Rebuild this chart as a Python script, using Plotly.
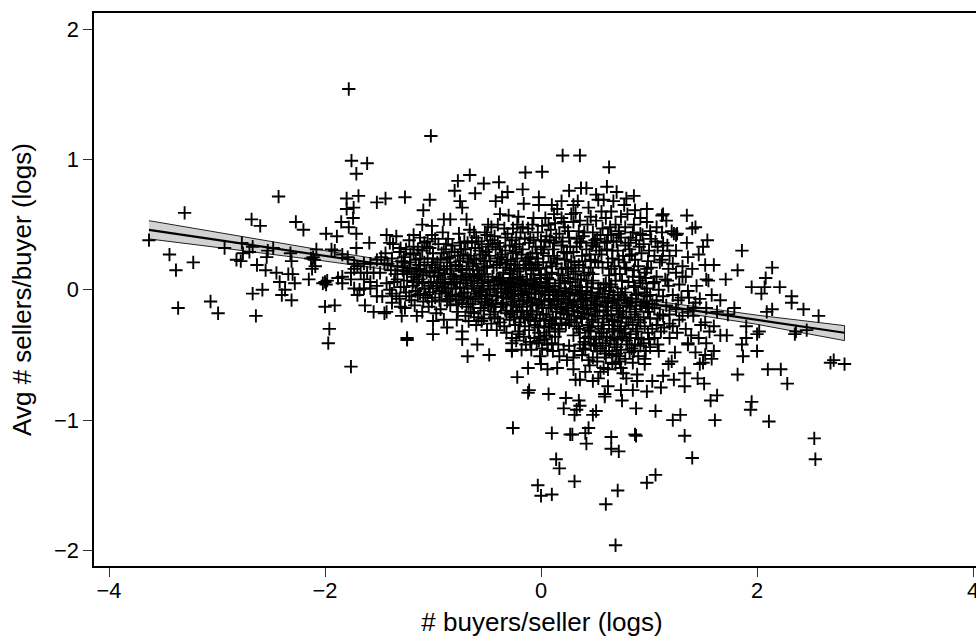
import plotly.graph_objects as go

left_tail = [(-1.78,1.54),(-1.755,.99),(-1.61,.97),(-1.71,.89),(-2.43,.715),(-3.30,.59),(-1.69,.72),(-1.80,.70),(-1.52,.67),(-1.44,.70),
(-1.80,.62),(-1.735,.63),(-1.74,.55),(-1.85,.52),(-1.78,.48),(-1.71,.43),(-2.68,.54),(-2.60,.49),(-2.27,.52),(-2.20,.46),(-1.99,.43),(-1.89,.41),
(-1.43,.42),(-1.59,.36),(-3.63,.38),(-3.44,.27),(-3.22,.21),(-3.38,.15),(-3.36,-.14),(-3.06,-.09),(-2.99,-.18),(-2.93,.32),(-2.82,.23),(-2.78,.22),
(-2.77,.36),(-2.67,.33),(-2.70,.29),(-2.76,.28),(-2.53,.30),(-2.48,.32),(-2.54,.25),(-2.63,.19),(-2.55,.15),(-2.45,.13),(-2.42,.06),(-2.34,.12),
(-2.30,.12),(-2.28,.05),(-2.31,.22),(-2.32,.28),(-2.15,.08),(-2.67,-.03),(-2.58,0),(-2.37,0),(-2.40,-.04),(-2.31,-.08),(-2.64,-.20),(-2.0,-.13),
(-1.91,-.12),(-1.96,-.30),(-1.97,-.41),(-2.08,.31),(-2.11,.25),(-2.13,.24),(-2.10,.23),(-2.12,.16),(-2.09,.18),(-1.94,.31),(-1.91,.30),(-1.84,.27),
(-1.79,.25),(-1.71,.32),(-2.0,.06),(-1.98,.07),(-2.02,.05),(-1.99,.04),(-1.88,.09),(-1.84,.10),(-1.76,.13),(-1.84,.05),(-1.76,.08),(-1.73,.20),
(-1.7,.18),(-1.64,.20),(-1.58,.20),(-1.52,.23),(-1.48,.25),(-1.45,.20),(-1.67,.13),(-1.61,.13),(-1.55,.13),(-1.49,.13),(-1.73,.16),(-1.64,.08),
(-1.58,.06),(-1.52,.03),(-1.73,.01),(-1.68,0),(-1.64,.01),(-1.58,.01),(-1.7,-.04),(-1.52,-.05),(-1.47,-.05),(-1.63,-.12),(-1.55,-.17),(-1.45,-.18),
(-1.43,.05),(-1.76,-.59)]

upper_fringe = [(-1.02,1.18),(.20,1.03),(.36,1.03),(.63,.94),(-.145,.90),(.01,.905),(-.77,.835),(-.66,.88),(-.53,.815),(-.39,.825),(-.80,.76),
(-.61,.74),(-.17,.77),(-.31,.75),(-.36,.71),(-.42,.68),(-1.26,.71),(-1.03,.69),(-.75,.68),(-.73,.63),(-1.09,.61),(-.16,.66),(-.02,.71),(-.02,.65),
(.26,.76),(.37,.78),(.42,.78),(.61,.79),(.70,.75),(.51,.73),(.79,.70),(.86,.72),(.19,.68),(.34,.68),(.53,.69),(.67,.68),(.58,.69),(.10,.65),(.77,.65),
(.65,.60),(.87,.61),(.98,.62),(1.12,.57),(1.16,.53),(.98,.52),(1.07,.48),(.86,.50),(.78,.48),(.72,.45),(.92,.43),(1.23,.43),(1.26,.43),(-.90,.54),
(-.84,.54),(-.69,.54),(-1.10,.50),(-1.01,.49),(-.49,.50),(-.38,.58),(-.30,.57),(-.21,.56),(-.07,.55),(.04,.55),(.19,.55),(.32,.59),(.46,.56),(.60,.55)]

lower_left = [(-1.24,-.37),(-1.24,-.385),(-.68,-.51),(-.48,-.50),(-.59,-.42),(-.73,-.38),(-.73,-.32),(-1.0,-.34),(-.87,-.29),(-.78,-.23),(-1.0,-.24),
(-1.43,-.17),(-1.29,-.20),(-1.15,-.20),(-.97,-.18),(-.50,-.31),(-.41,-.31),(-.27,-.46),(-.23,-.39),(-.27,-.41),(-1.38,-.10),(-1.30,-.13)]

lower_tail = [(.69,-1.96),(.60,-1.645),(.71,-1.54),(.98,-1.48),(1.06,-1.42),(-.03,-1.50),(0,-1.58),(.10,-1.57),(.31,-1.47),(.17,-1.37),(.14,-1.30),
(-.26,-1.06),(.10,-1.10),(.27,-1.11),(.29,-1.11),(.41,-1.10),(.44,-1.06),(.42,-1.18),(.65,-1.13),(.65,-1.22),(.72,-1.24),(.87,-1.11),(.88,-1.12),
(1.33,-1.12),(1.40,-1.29),(1.61,-1.00),(1.29,-.96),(1.22,-1.00),(1.06,-.93),(.88,-.91),(.75,-.85),(.48,-.96),(.51,-.93),(.31,-.96),(.33,-.92),(.36,-.89),
(.21,-.91),(.35,-.85),(.23,-.83),(.07,-.80),(-.12,-.79),(-.11,-.77),(-.22,-.67),(.59,-.80),(.59,-.82),(.62,-.74),(.74,-.77),(.85,-.77),
(.98,-.78),(1.11,-.75),(1.13,-.66),(1.03,-.70),(.89,-.70),(.89,-.65),(1.23,-.69),(1.33,-.74),(1.33,-.64),(1.45,-.68),(1.51,-.72),(1.57,-.85),(1.63,-.81),
(1.82,-.65),(1.95,-.86),(1.94,-.92),(2.11,-1.01),(2.28,-.72),(2.10,-.61),(2.22,-.61),(2.53,-1.14),(2.54,-1.30),(2.68,-.56),(2.71,-.54),(2.81,-.57),
(1.87,-.51),(2.00,-.47),(1.86,-.42),(1.50,-.56),(-.12,-.60),(0,-.57),(.06,-.61),(.15,-.60),(.30,-.61),(.41,-.63),(.32,-.69),(.36,-.69),(.48,-.70),(.53,-.68),
(.55,-.63),(.62,-.61),(.69,-.57),(.73,-.55),(.76,-.64),(.79,-.68),(.96,-.57),(.85,-.56),(1.18,-.57),(1.21,-.55),(1.47,-.57),(1.58,-.53),(1.43,-.48),(1.24,-.48),
(1.36,-.42),(1.09,-.47),(1.01,-.44),(.44,-.54),(.24,-.54),(-.01,-.51),(-.18,-.46),(-.27,-.47)]

right_side = [(1.35,.57),(1.43,.48),(1.40,.47),(1.54,.38),(1.50,.33),(1.35,.36),(1.46,.27),(1.86,.30),(1.82,.15),(1.60,.19),(1.52,.19),(1.71,.08),(1.53,.08),
(1.55,.07),(2.14,.17),(2.08,.09),(2.21,.02),(1.95,.02),(2.07,.02),(2.04,-.03),(2.32,-.05),(2.32,-.10),(2.43,-.15),(2.57,-.20),(2.14,-.15),(2.09,-.17),
(2.36,-.32),(2.35,-.34),(2.46,-.31),(1.90,-.28),(2.02,-.32),(2.00,-.34),(1.90,-.37),(1.79,-.14),(1.73,-.19),(1.66,-.08),
(1.58,-.04),(1.47,-.07),(1.36,-.01),(1.37,-.06),(1.72,-.35),(1.66,-.35),(1.60,-.28),(1.46,-.37),(1.53,-.41),(1.36,-.41),(1.19,-.37),(1.60,-.47),
(1.52,-.50),(1.13,.58),
(1.21,.45),(1.25,.42),(1.13,.36),(1.13,.30),(1.25,.30),(1.19,.26),(1.31,.18),(1.31,.10),(1.34,.10),(1.18,.16),(1.15,.08),(1.18,.03),(1.13,-.05),
(1.27,-.08),(1.41,-.14),(1.53,-.14),(1.63,-.17),(1.19,-.19),(1.28,-.23),(1.41,-.20),(1.52,-.25),(1.13,-.20),(1.19,-.26),(1.56,-.32)]

dense_upper = [(-1.40,.36),(-1.34,.41),(-1.37,.35),(-1.30,.32),(-1.22,.38),(-1.18,.33),(-1.12,.40),(-1.05,.37),(-1.01,.42),(-.95,.35),(-.91,.44),
(-.86,.39),(-.82,.34),(-.76,.43),(-.71,.37),(-.66,.46),(-.60,.40),(-.55,.35),(-.52,.44),(-.46,.48),(-.43,.41),(-.40,.36),(-.34,.47),(-.31,.43),(-.27,.38),
(-.22,.50),(-.19,.44),(-.15,.39),(-.12,.47),(-.03,.44),(.01,.49),(.05,.41),(.09,.46),(.13,.51),(.17,.43),(.22,.48),(.26,.40),(.30,.52),(.35,.45),(.39,.41),
(.43,.50),(.48,.44),(.52,.39),(.57,.47),(.62,.42),(.67,.37),(.69,.50),(.74,.40),(.81,.36),(.88,.38),(.95,.35),(1.02,.39),(1.08,.33),
(-1.44,.28),(-1.38,.24),(-1.31,.29),(-1.26,.21),(-1.21,.27),(-1.16,.23),(-1.10,.30),(-1.05,.24),(-1.00,.28),(-.96,.21),(-.90,.31),(-.85,.25),(-.80,.29),
(-.75,.22),(-.70,.31),(-.65,.26),(-.61,.32),(-.56,.24),(-.51,.29),(-.47,.22),(-.42,.31),(-.37,.25),(-.33,.30),(-.28,.22),(-.24,.33),(-.18,.27),(-.14,.22),
(-.08,.28),(-.03,.24),(.03,.33),(.07,.26),(.11,.31),(.15,.24),(.19,.34),(.24,.28),(.28,.22),(.33,.33),(.38,.26),(.42,.31),(.46,.23),(.51,.33),(.56,.27),
(.61,.31),(.66,.24),(.71,.30),(.76,.26),(.82,.31),(.87,.23),(.93,.28),(.99,.22),(1.05,.26),(1.10,.21),
(-1.39,.15),(-1.33,.18),(-1.27,.12),(-1.22,.17),(-1.17,.10),(-1.12,.16),(-1.06,.13),(-1.01,.19),(-.95,.11),(-.90,.16),(-.84,.12),(-.79,.19),(-.74,.10),
(-.69,.16),(-.63,.18),(-.58,.10),(-.53,.17),(-.38,.09),(-.33,.17),(-.28,.12),(-.24,.19),(-.19,.10),(-.14,.16),(-.09,.12),(-.05,.19),(0,.11),(.05,.17),(.10,.13),
(.14,.20),(.20,.11),(.25,.16),(.30,.12),(.35,.19),(.40,.11),(.46,.17),(.63,.11),(.68,.18),(.73,.12),(.79,.16),(.85,.10),(.90,.18),(.96,.13),(1.02,.17),(1.07,.10),
(-1.36,.06),(-1.30,.02),(-1.24,.07),(-1.19,.03),(-1.13,.08),(-1.08,.01),(-1.02,.06),(-.97,.03),(-.91,.08),(-.86,.01),(-.81,.06),(-.75,.02),(-.70,.08),(-.64,.03),
(-.59,.07),(-.54,.01),(-.49,.06),(-.44,.03),(-.39,.08),(-.34,.01),(-.29,.06),(-.25,.02),(-.20,.08),(-.15,.03),(-.10,.07),(-.06,.01),(-.01,.06),(.04,.02),(.08,.08),
(.13,.03),(.18,.07),(.22,.01),(.27,.06),(.32,.03),(.37,.08),(.43,.02),(.48,.07),(.53,.01),(.58,.04),(.64,.02),(.69,.07),(.75,.01),(.81,.06),(.87,.02),(.92,.07),
(.98,.01),(1.04,.05),(1.09,0)]

dense_lower = [(-1.38,-.03),(-1.31,-.07),(-1.25,-.02),(-1.20,-.08),(-1.14,-.04),(-1.09,-.09),(-1.03,-.02),(-.98,-.06),(-.92,-.03),(-.87,-.09),(-.82,-.04),(-.76,-.08),
(-.71,-.02),(-.65,-.07),(-.60,-.03),(-.55,-.09),(-.50,-.04),(-.45,-.08),(-.40,-.02),(-.35,-.06),(-.30,-.03),(-.25,-.09),(-.21,-.04),(-.16,-.08),(-.11,-.02),(-.06,-.07),
(-.02,-.03),(.03,-.09),(.07,-.04),(.12,-.08),(.16,-.02),(.21,-.07),(.26,-.03),(.31,-.09),(.36,-.04),(.41,-.08),(.46,-.02),(.52,-.06),(.57,-.03),(.62,-.09),(.67,-.04),
(.72,-.08),(.78,-.02),(.84,-.07),(.90,-.03),(.95,-.09),(1.01,-.04),(1.07,-.08),
(-1.26,-.14),(-1.17,-.12),(-1.10,-.17),(-1.04,-.13),(-.93,-.15),(-.84,-.12),(-.77,-.17),(-.69,-.13),(-.62,-.18),(-.56,-.14),(-.49,-.12),(-.43,-.17),(-.37,-.13),(-.32,-.18),
(-.27,-.12),(-.22,-.16),(-.17,-.13),(-.13,-.19),(-.08,-.12),(-.04,-.17),(.01,-.14),(.05,-.19),(.10,-.12),(.14,-.17),(.19,-.13),(.24,-.19),(.29,-.12),(.34,-.17),(.39,-.14),
(.44,-.19),(.49,-.12),(.54,-.16),(.60,-.13),(.65,-.19),(.70,-.12),(.76,-.17),(.82,-.13),(.87,-.19),(.93,-.12),(.99,-.17),(1.05,-.14),(1.10,-.19),
(-.90,-.23),(-.67,-.24),(-.60,-.27),(-.53,-.22),(-.46,-.26),(-.40,-.22),(-.34,-.28),(-.29,-.23),(-.24,-.27),(-.19,-.22),(-.15,-.28),(-.10,-.23),(-.06,-.27),(-.01,-.22),
(.03,-.28),(.08,-.24),(.13,-.27),(.18,-.22),(.23,-.27),(.28,-.23),(.33,-.28),(.38,-.22),(.43,-.27),(.48,-.23),(.53,-.28),(.58,-.22),(.63,-.27),(.68,-.24),(.74,-.28),
(.79,-.22),(.85,-.27),(.90,-.23),(.96,-.28),(1.01,-.22),(1.07,-.27),
(-.32,-.33),(-.27,-.37),(-.21,-.32),(-.16,-.36),(-.11,-.31),(-.06,-.37),(-.02,-.33),(.03,-.38),(.08,-.32),(.13,-.36),(.17,-.32),(.36,-.33),(.41,-.37),(.46,-.32),(.51,-.38),
(.56,-.33),(.61,-.36),(.66,-.32),(.71,-.38),(.77,-.33),(.82,-.37),(.88,-.32),(.93,-.38),(.99,-.33),(1.05,-.37),(1.11,-.32),
(-.14,-.42),(-.09,-.46),(-.04,-.41),(.01,-.45),(.06,-.42),(.11,-.47),(.16,-.42),(.21,-.46),(.26,-.43),(.31,-.47),(.36,-.42),(.41,-.46),(.46,-.42),(.52,-.47),(.57,-.43),(.63,-.47),
(.68,-.42),(.74,-.46),(.80,-.42),(.86,-.47),(.92,-.43),(.97,-.47),(.60,-.52),(.66,-.56),(.72,-.51),(.78,-.53),(.90,-.51),(.96,-.53),(.17,-.51),(.30,-.52),(.38,-.50),(.52,-.55),
(.45,-.58),(.58,-.60)]

dense_core = [(-1.27,.25),(-1.14,.31),(-1.03,.14),(-.93,.23),(-.87,.18),(-.78,.05),(-.72,.27),(-.67,.21),(-.62,.11),(-.57,.30),(-.52,.22),(-.41,.19),(-.36,.27),(-.31,.04),
(-.26,.28),(-.22,.14),(-.17,.31),(-.11,.20),(-.07,.05),(-.02,.16),(.02,.28),(.06,.09),(.09,.21),(.12,.36),(.16,.12),(.21,.29),(.23,.17),(.27,.33),(.31,.21),(.34,.08),(.37,.37),
(.41,.22),(.44,.13),(.47,.34),(.53,.21),(.59,.36),(.65,.16),(.70,.37),(.77,.21),(.84,.27),(.91,.33),(.97,.09),(-.96,.05),(-.88,-.02),(-.79,-.05),(-.73,-.10),(-.68,.01),(-.63,-.11),
(-.57,-.01),(-.52,-.10),(-.47,.00),(-.42,-.11),(-.37,.04),(-.32,-.06),(-.27,.02),(-.23,-.13),(-.18,-.01),(-.13,-.09),(-.08,.04),(-.04,-.12),(.01,-.01),(.05,.05),(.09,-.12),(.14,-.04),
(.18,-.15),(.22,.05),(.25,-.10),(.29,.00),(.33,-.13),(.38,-.01),(.43,-.12),(.47,.05),(.51,-.11),(.55,.01),(.60,-.10),(.65,.04),(.70,-.14),(.74,-.04),(.80,-.10),(.86,.03),(.92,-.12),(.98,-.05),
(-.70,-.20),(-.58,-.21),(-.47,-.19),(-.38,-.25),(-.28,-.19),(-.20,-.25),(-.12,-.21),(-.05,-.24),(.02,-.19),(.07,-.29),(.11,-.21),(.16,-.30),(.21,-.18),(.26,-.25),(.31,-.20),(.35,-.30),(.40,-.18),
(.45,-.29),(.50,-.20),(.56,-.30),(.61,-.20),(.67,-.30),(.72,-.19),(.78,-.30),(.83,-.21),(.89,-.30),(.95,-.21),(1.03,-.30),(.40,-.40),(.49,-.41),(.55,-.45),(.64,-.39),(.70,-.44),(.79,-.39),(.87,-.42),
(-.02,-.39),(.05,-.35),(.10,-.41),(-.10,-.40),(-.20,-.34),(.30,-.35),(.48,-.52),(.66,-.50),(.74,-.60),(.84,-.45),(1.00,-.38),(1.08,-.42),(-1.20,.12),(-1.10,.05),(-1.05,-.06),(-1.16,-.01),(-1.28,.15),
(-1.33,.08),(-.99,.10),(-.83,.04),(-1.42,.20),(-1.40,.00),(-1.34,-.05),(-.55,.12),(-.33,.40),(-.17,.48),(.08,.38),(.25,.45),(.40,.44),(.55,.42),(.72,.43),(.85,.44),(-.62,.44),(-.75,.36),(-.98,.39),
(-1.08,.36),(-1.18,.42),(.28,.58),(.12,.58),(-.10,.40),(.00,.38),(.44,.63),(.56,.60),(.30,.65),(.15,.62),(.74,.56),(.80,.58),(.92,.55),(1.01,.45),(1.06,.37),(1.12,.44),(1.17,.34),(1.22,.20),(1.25,.13),
(1.12,.23),(1.17,.07),(1.22,-.04),(1.16,-.12),(1.25,-.15),(1.31,-.20),(1.22,-.28),(1.26,-.33),(1.14,-.29),(1.34,-.30),(1.39,-.35),(1.30,-.06),(1.43,-.10),(1.36,-.17),(1.48,-.27),(1.28,.04),(1.40,.16),(1.36,.25),(1.44,.03),
(-.50,.42),(-.40,.50),(-.26,.47),(-.08,.50),(.07,.50),(.21,.52),(.36,.53),(.51,.53),(.64,.48),(-1.12,.24),(-.92,.28),(-.68,.36),(-.45,.35),(-.20,.35),(-.05,.33),(.14,.40),(.33,.39),(.48,.36),(.61,.37),(.78,.34),(.94,.42),
(-.65,-.17),(-.53,-.16),(-.44,-.13),(-.35,-.11),(-.26,-.17),(-.18,-.17),(-.10,-.16),(-.02,-.11),(.07,-.14),(.16,-.09),(.23,-.14),(.30,-.16),(.37,-.09),(.46,-.14),(.52,-.12),(.58,-.16),(.66,-.10),(.73,-.16),(.79,-.12),(.88,-.15),(.97,-.13)]

dense_black = [(-1.21,.21),(-1.15,.14),(-1.08,.21),(-1.03,.32),(-.98,.17),(-.93,.06),(-.89,.12),(-.84,.21),(-.81,.10),(-.77,.26),(-.73,.15),(-.69,.05),(-.66,.12),(-.62,.23),(-.59,.15),(-.55,.05),(-.52,.12),(-.48,.26),
(-.44,.17),(-.41,.08),(-.38,.21),(-.35,.13),(-.31,.23),(-.28,.05),(-.25,.16),(-.22,.24),(-.19,.05),(-.16,.19),(-.13,.08),(-.10,.25),(-.07,.15),(-.04,.28),(-.01,.09),(.02,.21),(.04,.12),(.07,.03),(.10,.18),(.12,.26),(.17,.05),
(.19,.16),(.22,.23),(.25,.09),(.28,.17),(.30,.29),(.32,.14),(.36,.02),(.39,.17),(.42,.07),(.45,.27),(.48,.12),(.50,.22),(.54,.30),(.57,.17),(.60,.05),(.62,.21),(.66,.30),(.69,.12),(.72,.23),(.75,.07),(.78,.17),(.82,.26),(.86,.15),
(-1.12,-.03),(-1.01,-.09),(-.94,-.01),(-.85,-.07),(-.78,-.11),(-.72,-.05),(-.67,-.11),(-.61,-.07),(-.56,-.02),(-.51,-.07),(-.46,-.11),(-.41,-.05),(-.36,-.10),(-.33,-.02),(-.28,-.07),(-.24,-.01),(-.20,-.11),(-.17,-.04),(-.12,-.06),(-.09,-.10),
(-.05,-.03),(0,-.08),(.04,-.02),(.08,-.07),(.11,-.01),(.15,-.11),(.19,-.05),(.23,-.02),(.27,-.08),(.30,-.11),(.34,-.04),(.39,-.07),(.42,-.01),(.47,-.06),(.50,-.09),(.54,-.03),(.59,-.06),(.63,-.01),(.68,-.08),(.71,-.02),(.77,-.06),(.83,-.10),(.88,-.04),
(-.55,-.24),(-.43,-.21),(-.33,-.16),(-.25,-.21),(-.16,-.21),(-.08,-.19),(-.03,-.29),(.04,-.23),(.10,-.26),(.14,-.22),(.19,-.26),(.25,-.16),(.31,-.25),(.37,-.21),(.42,-.15),(.47,-.25),(.52,-.17),(.57,-.25),(.62,-.16),(.66,-.23),(.71,-.25),(.75,-.21),(.81,-.25),(.87,-.17),(.92,-.25),
(.44,-.36),(.54,-.36),(.60,-.41),(.68,-.37),(.75,-.36),(.83,-.34),(.90,-.37),(.95,-.41),(.06,-.46),(-.01,-.36),(.39,-.45),(.50,-.43),(.59,-.49),(.70,-.49),(.82,-.48),(.44,-.31),(.58,-.33),(.73,-.31),
(-1.25,.31),(-.83,.29),(-.64,.37),(-.47,.38),(-.29,.34),(-.11,.36),(.04,.37),(.20,.37),(.36,.36),(.50,.38),(.65,.42),(.83,.40),(1.00,.30),(.98,.16),(1.05,.06),(1.03,-.11),(1.08,-.22),(1.00,-.14),(.91,.10),(.94,.05),(.96,-.02)]

dense_left = [(-1.35,.12),(-1.29,.22),(-1.24,.14),(-1.18,.06),(-1.13,.19),(-1.09,.11),(-1.04,.03),(-1.00,.24),(-.94,.15),(-.91,.02),(-.87,.24),(-.83,.16),(-.80,.08),(-.76,.18),(-.72,.08),(-.68,.24),(-.65,.07),(-.60,.20),(-.57,.12),
(-.54,.27),(-.50,.18),(-.45,.10),(-.40,.24),(-.36,.07),(-.32,.20),(-.29,.15),(-.26,.09),(-.23,.29),(-.20,.17),(-.17,.07),(-.12,.24),(-.09,.17),(-.06,.08),(-.03,.21),(.00,.31),(-1.27,.02),(-1.22,-.05),(-1.15,.06),(-1.07,-.04),(-1.00,.01),(-.94,-.08),
(-.89,.05),(-.84,-.05),(-.79,.01),(-.74,-.03),(-.68,-.06),(-.62,.01),(-.58,-.05),(-.53,.03),(-.48,-.04),(-.43,.01),(-.37,-.02),(-.31,.00),(-.27,-.05),(-.22,.04),(-.19,-.03),(-.14,.01),(-.09,-.03),(-.04,.03),(-1.18,.28),(-1.06,.33),(-.88,.35),(-.74,.31),(-.58,.37),(-.49,.33),(-.38,.33),(-.23,.40),(-.07,.38)]

fit_x = [-3.63, -3, -2, -1, 0, 1, 2, 2.81]
fit_y = [.46, .383, .26, .138, .015, -.108, -.23, -.33]
fit_lo = [.39, .325, .22, .105, -.01, -.135, -.265, -.39]
fit_hi = [.53, .44, .30, .17, .04, -.08, -.195, -.275]

x_ticks = [-4, -2, 0, 2, 4]
y_ticks = [-2, -1, 0, 1, 2]
minus = "\u2212"

points = list(dict.fromkeys(left_tail + upper_fringe + lower_left + lower_tail + right_side + dense_upper + dense_lower + dense_core + dense_black + dense_left))
px = [p[0] for p in points]
py = [p[1] for p in points]

fig = go.Figure()
fig.add_trace(go.Scatter(x=fit_x + fit_x[::-1], y=fit_hi + fit_lo[::-1], mode="lines", fill="toself",
                         fillcolor="#d2d2d2", line=dict(color="#222222", width=1), hoverinfo="skip"))
fig.add_trace(go.Scatter(x=fit_x, y=fit_y, mode="lines", line=dict(color="#000000", width=2.2)))
fig.add_trace(go.Scatter(x=px, y=py, mode="markers",
                         marker=dict(symbol="cross-thin", size=9.5, line=dict(color="#000000", width=1.9))))

def labels(v):
    return [(minus + str(-t)) if t < 0 else str(t) for t in v]

axis = dict(showgrid=False, zeroline=False, showline=True, linecolor="#000000", linewidth=1.5, automargin=False,
            ticks="outside", ticklen=9, tickwidth=1.2, tickcolor="#333333")
fig.update_layout(
    width=1000, height=637, showlegend=False, plot_bgcolor="#ffffff", paper_bgcolor="#ffffff",
    margin=dict(l=94, r=10, t=13, b=70.5),
    font=dict(family="Liberation Sans", size=21.8, color="#000000"),
    xaxis=dict(axis, mirror=True, range=[-4.139, 4.157], tickvals=x_ticks, ticktext=labels(x_ticks), ticklabelstandoff=-5,
               title=dict(text="# buyers/seller (logs)", standoff=20)),
    yaxis=dict(axis, range=[-2.119, 2.123], tickvals=y_ticks, ticktext=labels(y_ticks),
               title=dict(text="Avg # sellers/buyer (logs)", standoff=15)),
)
fig.write_html("out.html", config={"displayModeBar": False},
               post_script="document.body.style.margin='0';document.body.style.overflow='hidden';")
